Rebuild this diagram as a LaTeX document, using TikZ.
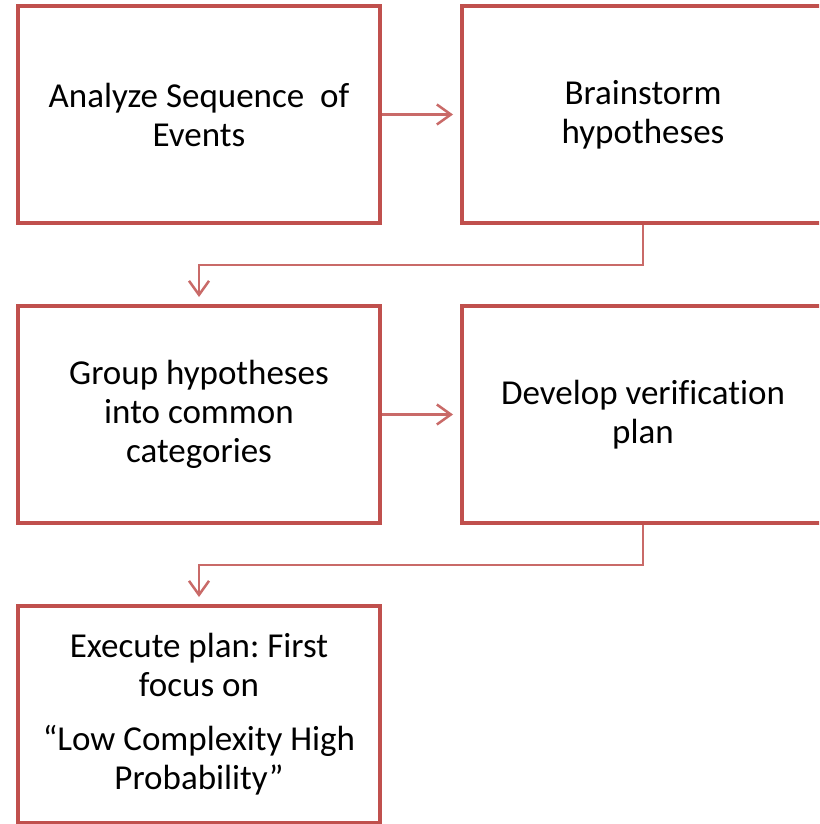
\documentclass[tikz,border=0pt]{standalone}
\usepackage{fontspec}
\setmainfont{Carlito}[Ligatures=NoCommon]
\usetikzlibrary{arrows.meta}
\definecolor{boxc}{HTML}{C0504D}
\colorlet{arrc}{boxc!85!white}
\frenchspacing
\tikzset{
  stepbox/.style={draw=boxc, line width=4pt, fill=white, minimum width=362pt, minimum height=217pt,
    inner sep=0pt, align=center, font=\fontsize{35pt}{39pt}\selectfont},
  conn/.style={draw=arrc, line width=2.5pt, -{Straight Barb[length=14pt,width=20pt]}, shorten >=7pt}
}
\begin{document}
\begin{tikzpicture}[x=1pt,y=-1pt]
\useasboundingbox (0,0) rectangle (819,824);
\clip (0,0) rectangle (819,824);
\node[stepbox] (b1) at (199,114.5) {Analyze Sequence \ of\\Events};
\node[stepbox] (b2) at (643,114.5) {Brainstorm\\hypotheses};
\node[stepbox] (b3) at (199,414.5) {Group hypotheses\\into common\\categories};
\node[stepbox] (b4) at (643,414.5) {Develop verification\\plan};
\node[stepbox] (b5) at (199,714.5) {Execute plan: First\\focus on\\[15pt]“Low Complexity High\\Probability”};
\coordinate (k1) at (643,265);
\coordinate (k2) at (643,565);
\draw[conn] (b1.east) -- (b2.west);
\draw[conn] (b3.east) -- (b4.west);
\draw[conn] (b2.south) -- (k1) -| (b3.north);
\draw[conn] (b4.south) -- (k2) -| (b5.north);
\end{tikzpicture}
\end{document}
